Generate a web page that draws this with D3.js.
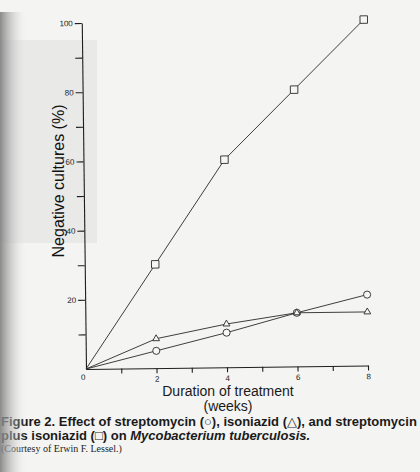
<!DOCTYPE html>
<html>
<head>
<meta charset="utf-8">
<script src="https://cdn.jsdelivr.net/npm/d3@7"></script>
<style>
  body { margin: 0; background: #f4f4f2; }
  svg { display: block; font-family: 'Liberation Sans', Arial, sans-serif; }
</style>
</head>
<body>
<div id="chart"></div>
<script>
// weeks of treatment
const weeks = [0, 2, 4, 6, 8]
// negative cultures (%) for each drug
const streptomycin = [0, 5, 10, 15.5, 20.5] // circles
const isoniazid = [0, 8.5, 12.5, 15.5, 15.5] // triangles
const combined = [0, 30, 60, 80, 100] // squares, streptomycin plus isoniazid
// tick labels
const yTickLabels = [20, 40, 60, 80, 100]
const xTickLabels = [2, 4, 6, 8]

const width = 420
const height = 472

const svg = d3
  .select('#chart')
  .append('svg')
  .attr('width', width)
  .attr('height', height)

// the scanned page: off white, a faint grey patch and the gutter shadow
const defs = svg.append('defs')
const grad = defs
  .append('linearGradient')
  .attr('id', 'gutter')
  .attr('x1', 0)
  .attr('x2', 1)
grad.append('stop').attr('offset', 0).attr('stop-color', '#7e7e7e').attr('stop-opacity', 0.9)
grad.append('stop').attr('offset', 0.45).attr('stop-color', '#b4b4b4').attr('stop-opacity', 0.55)
grad.append('stop').attr('offset', 1).attr('stop-color', '#e6e6e6').attr('stop-opacity', 0)

svg.append('rect').attr('width', width).attr('height', height).attr('fill', '#f4f4f2')
svg
  .append('rect')
  .attr('x', 0)
  .attr('y', 40)
  .attr('width', 97)
  .attr('height', 203)
  .attr('fill', '#e9e9e8')

// scales
var x = d3.scaleLinear().domain([0, 8]).range([86, 368])
var y = d3.scaleLinear().domain([0, 100]).range([369, 23])

// the scan is a touch rotated, so tilt the plot around the origin
var g = svg
  .append('g')
  .attr('transform', 'rotate(-0.7,' + x(0) + ',' + y(0) + ')')

// y axis, minor ticks every 10, labels every 20
var yAxis = g
  .append('g')
  .attr('transform', 'translate(' + x(0) + ',0)')
  .call(
    d3
      .axisLeft(y)
      .tickValues(d3.range(10, 101, 10))
      .tickSize(7)
      .tickSizeOuter(0)
      .tickPadding(2)
      .tickFormat(function (d) {
        return yTickLabels.indexOf(d) >= 0 ? d : ''
      })
  )

// x axis, ticks every week, labels every 2
var xAxis = g
  .append('g')
  .attr('transform', 'translate(0,' + y(0) + ')')
  .call(
    d3
      .axisBottom(x)
      .tickValues(d3.range(1, 9, 1))
      .tickSize(5)
      .tickSizeOuter(0)
      .tickPadding(3)
      .tickFormat(function (d) {
        return xTickLabels.indexOf(d) >= 0 ? d : ''
      })
  )

;[yAxis, xAxis].forEach(function (a) {
  a.selectAll('path, line').attr('stroke', '#1e1e1e').attr('stroke-width', 1.1)
  a.selectAll('text').attr('fill', '#222').attr('font-size', 8)
})

// shared zero under the corner
g.append('text')
  .attr('x', x(0) - 3)
  .attr('y', y(0) + 11)
  .attr('text-anchor', 'middle')
  .attr('font-size', 8)
  .attr('fill', '#222')
  .text('0')

var line = d3
  .line()
  .x(function (d) {
    return x(d[0])
  })
  .y(function (d) {
    return y(d[1])
  })

var series = [
  { values: streptomycin, symbol: d3.symbolCircle, size: 40 },
  { values: isoniazid, symbol: d3.symbolTriangle, size: 20 },
  { values: combined, symbol: d3.symbolSquare, size: 56 },
]

series.forEach(function (s) {
  var pts = weeks.map(function (w, i) {
    return [w, s.values[i]]
  })
  g.append('path')
    .datum(pts)
    .attr('d', line)
    .attr('fill', 'none')
    .attr('stroke', '#2a2a2a')
    .attr('stroke-width', 0.9)

  // no marker at the origin
  g.append('g')
    .selectAll('path')
    .data(pts.slice(1))
    .enter()
    .append('path')
    .attr('transform', function (d) {
      return 'translate(' + x(d[0]) + ',' + y(d[1]) + ')'
    })
    .attr('d', d3.symbol().type(s.symbol).size(s.size))
    .attr('fill', '#f6f6f4')
    .attr('stroke', '#2a2a2a')
    .attr('stroke-width', 0.9)
})

// axis titles
svg
  .append('text')
  .attr('transform', 'translate(64,181) rotate(-90)')
  .attr('text-anchor', 'middle')
  .attr('font-size', 16)
  .attr('fill', '#111')
  .text('Negative cultures (%)')

svg
  .append('text')
  .attr('x', 228)
  .attr('y', 396)
  .attr('text-anchor', 'middle')
  .attr('font-size', 14)
  .attr('fill', '#1a1a1a')
  .text('Duration of treatment')

svg
  .append('text')
  .attr('x', 228)
  .attr('y', 411)
  .attr('text-anchor', 'middle')
  .attr('font-size', 14)
  .attr('fill', '#1a1a1a')
  .text('(weeks)')

// caption
var cap1 = svg
  .append('text')
  .attr('x', 1)
  .attr('y', 426)
  .attr('font-size', 13)
  .attr('font-weight', 'bold')
  .attr('fill', '#1a1a1a')
cap1.append('tspan').text('Figure 2. Effect of streptomycin (')
cap1.append('tspan').attr('font-weight', 'normal').text('\u25CB')
cap1.append('tspan').text('), isoniazid (')
cap1.append('tspan').attr('font-weight', 'normal').text('\u25B3')
cap1.append('tspan').text('), and streptomycin')

var cap2 = svg
  .append('text')
  .attr('x', 1)
  .attr('y', 440)
  .attr('font-size', 13)
  .attr('font-weight', 'bold')
  .attr('fill', '#1a1a1a')
cap2.append('tspan').text('plus isoniazid (')
cap2.append('tspan').attr('font-weight', 'normal').text('\u25A1')
cap2.append('tspan').text(') on ')
cap2.append('tspan').attr('font-style', 'italic').text('Mycobacterium tuberculosis.')

svg
  .append('text')
  .attr('x', 1)
  .attr('y', 452)
  .attr('font-size', 10)
  .attr('font-family', "'Liberation Serif', 'Times New Roman', serif")
  .attr('fill', '#222')
  .text('(Courtesy of Erwin F. Lessel.)')

// gutter shadow laid over the left edge, caption included
svg
  .append('rect')
  .attr('x', 0)
  .attr('y', 12)
  .attr('width', 26)
  .attr('height', height - 12)
  .attr('fill', 'url(#gutter)')
</script>
</body>
</html>
